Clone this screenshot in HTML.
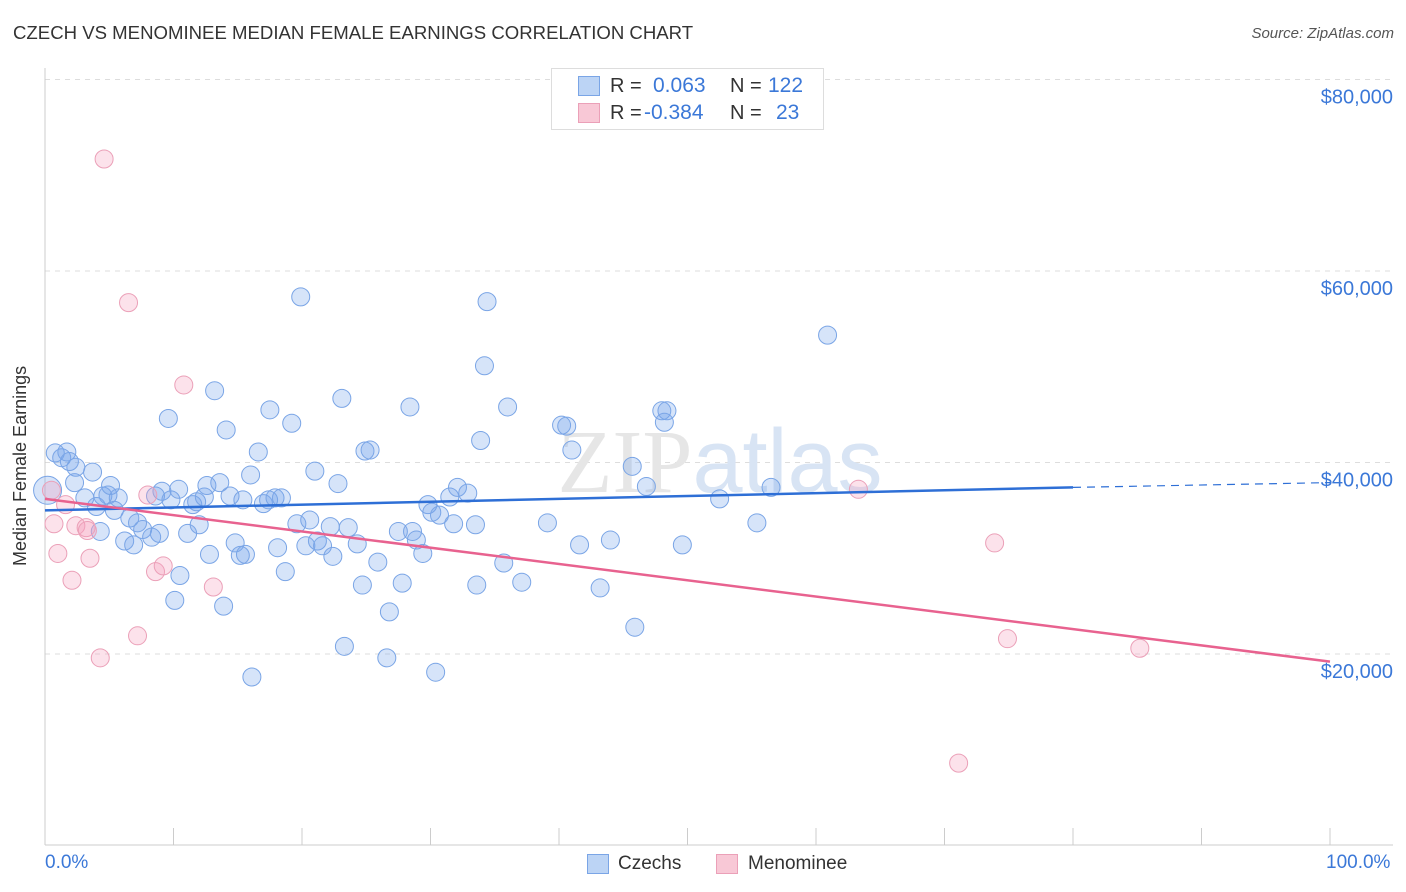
<!DOCTYPE html>
<html><head><meta charset="utf-8">
<style>
body{margin:0;background:#fff;font-family:"Liberation Sans",sans-serif;}
#wrap{position:relative;width:1406px;height:892px;overflow:hidden;}
.t{position:absolute;white-space:nowrap;}
</style></head>
<body>
<div id="wrap">
<div class="t" style="left:13px;top:22px;font-size:18.6px;color:#333;">CZECH VS MENOMINEE MEDIAN FEMALE EARNINGS CORRELATION CHART</div>
<div class="t" style="right:12px;top:25px;font-size:15px;color:#555;font-style:italic;">Source: ZipAtlas.com</div>
<svg id="svg" width="1406" height="892" style="position:absolute;left:0;top:0"></svg>
<div class="t" style="left:551px;top:68px;width:271px;height:60px;border:1px solid #ddd;background:#fff;">
 <div style="position:absolute;left:26px;top:7px;width:20px;height:18px;background:#bcd4f5;border:1px solid #7aa5e6;"></div>
 <div style="position:absolute;left:58px;top:6px;font-size:20px;color:#333;">R =</div>
 <div style="position:absolute;left:101px;top:5px;font-size:21px;color:#3b78d8;">0.063</div>
 <div style="position:absolute;left:178px;top:6px;font-size:20px;color:#333;">N =</div>
 <div style="position:absolute;left:216px;top:5px;font-size:21px;color:#3b78d8;">122</div>
 <div style="position:absolute;left:26px;top:34px;width:20px;height:18px;background:#f8c8d6;border:1px solid #eba0b8;"></div>
 <div style="position:absolute;left:58px;top:33px;font-size:20px;color:#333;">R =</div>
 <div style="position:absolute;left:92px;top:32px;font-size:21px;color:#3b78d8;">-0.384</div>
 <div style="position:absolute;left:178px;top:33px;font-size:20px;color:#333;">N =</div>
 <div style="position:absolute;left:224px;top:32px;font-size:21px;color:#3b78d8;">23</div>
</div>
<div class="t" style="left:45px;top:852px;font-size:19px;color:#3b78d8;">0.0%</div>
<div class="t" style="left:1326px;top:852px;font-size:19px;color:#3b78d8;">100.0%</div>
<div class="t" style="left:587px;top:854px;width:20px;height:18px;background:#bcd4f5;border:1px solid #7aa5e6;"></div>
<div class="t" style="left:618px;top:853px;font-size:19px;color:#333;">Czechs</div>
<div class="t" style="left:716px;top:854px;width:20px;height:18px;background:#f8c8d6;border:1px solid #eba0b8;"></div>
<div class="t" style="left:748px;top:853px;font-size:19px;color:#333;">Menominee</div>
<div class="t" style="left:10px;font-size:18px;color:#333;transform:rotate(-90deg);transform-origin:left top;top:566px;">Median Female Earnings</div>
</div>
<script>
const yTicks=[20000,40000,60000,80000];
const yTickLabels=["$20,000","$40,000","$60,000","$80,000"];
const xTicks=[0,10,20,30,40,50,60,70,80,90,100];
const czX=[0.8,1.3,1.7,1.9,2.4,3.7,2.3,3.1,4.0,4.3,4.5,4.9,5.1,5.7,5.4,6.2,6.6,6.9,7.2,7.6,8.3,8.6,8.9,9.1,9.6,9.8,10.4,10.5,10.1,11.1,11.5,11.8,12.0,12.4,12.6,12.8,13.2,13.6,14.1,13.9,14.4,14.8,15.2,15.4,15.6,16.0,16.1,16.6,17.0,17.4,17.5,17.9,18.1,18.4,18.7,19.2,19.6,19.9,20.3,20.6,21.0,21.2,21.6,22.2,22.4,22.8,23.1,23.3,23.6,24.3,24.7,24.9,25.3,25.9,26.6,26.8,27.5,27.8,28.4,28.6,28.9,29.4,29.8,30.1,30.4,30.7,31.5,31.8,32.1,32.9,33.5,33.6,33.9,34.2,34.4,35.7,36.0,37.1,39.1,40.2,40.6,41.0,41.6,43.2,44.0,45.7,45.9,46.8,48.0,48.4,48.2,49.6,52.5,55.4,56.5,60.9,0.2];
const czY=[41.0,40.5,41.1,40.1,39.5,39.0,37.9,36.3,35.4,32.8,36.5,36.6,37.6,36.3,35.0,31.8,34.2,31.4,33.7,33.0,32.2,36.5,32.6,37.0,44.6,36.1,37.2,28.2,25.6,32.6,35.6,35.9,33.5,36.4,37.6,30.4,47.5,37.9,43.4,25.0,36.5,31.6,30.3,36.1,30.4,38.7,17.6,41.1,35.7,36.1,45.5,36.3,31.1,36.3,28.6,44.1,33.6,57.3,31.3,34.0,39.1,31.8,31.3,33.3,30.2,37.8,46.7,20.8,33.2,31.5,27.2,41.2,41.3,29.6,19.6,24.4,32.8,27.4,45.8,32.8,31.9,30.5,35.6,34.8,18.1,34.5,36.4,33.6,37.4,36.8,33.5,27.2,42.3,50.1,56.8,29.5,45.8,27.5,33.7,43.9,43.8,41.3,31.4,26.9,31.9,39.6,22.8,37.5,45.4,45.4,44.2,31.4,36.2,33.7,37.4,53.3,37.1];
const meX=[4.6,6.5,10.8,0.5,0.7,1.0,2.1,2.4,3.2,3.5,4.3,7.2,8.0,8.6,9.2,13.1,63.3,73.9,74.9,85.2,71.1,1.6,3.3];
const meY=[71.7,56.7,48.1,37.1,33.6,30.5,27.7,33.4,33.2,30.0,19.6,21.9,36.6,28.6,29.2,27.0,37.2,31.6,21.6,20.6,8.6,35.6,32.9];
const czLine=[35.0,37.4,37.9]; // at 0, 80, 100 %
const meLine=[36.2,19.2]; // at 0, 100 %
const NS="http://www.w3.org/2000/svg";
const svg=document.getElementById('svg');
const X=p=>45+p*12.85;
const Y=v=>845.5-v/20000*191.5;
function mk(t,a){const e=document.createElementNS(NS,t);for(const k in a)e.setAttribute(k,a[k]);svg.appendChild(e);return e;}
yTicks.forEach((v,i)=>{
 const g=mk('line',{x1:45,x2:1393,y1:Y(v),y2:Y(v),stroke:'#ddd','stroke-dasharray':'5,5'});
 
 
 const t=mk('text',{x:1393,y:Y(v)+24,'text-anchor':'end','font-size':20,fill:'#3b78d8','font-family':'Liberation Sans'});
 t.textContent=yTickLabels[i];
 
 
});
const ax=mk('line',{x1:45,x2:45,y1:68,y2:845,stroke:'#ccc'});


const bx=mk('line',{x1:45,x2:1393,y1:845,y2:845,stroke:'#ccc'});


xTicks.forEach(p=>{
 const l=mk('line',{x1:X(p),x2:X(p),y1:828,y2:845,stroke:'#ccc'});
 
 
});
const wm=mk('text',{x:720,y:492,'text-anchor':'middle','font-size':90,fill:'#e6e6e6','font-family':'Liberation Serif'});
wm.innerHTML='ZIP<tspan fill="#d8e4f4" font-family="Liberation Sans">atlas</tspan>';


czX.forEach((x,i)=>{
 const c=mk('circle',{cx:X(x),cy:Y(czY[i]*1000),r:i==czX.length-1?14:9,fill:'rgba(120,165,235,0.3)',stroke:'#7aa5e6','stroke-width':1});
 
 
});
meX.forEach((x,i)=>{
 const c=mk('circle',{cx:X(x),cy:Y(meY[i]*1000),r:9,fill:'rgba(245,160,190,0.3)',stroke:'#eba0b8','stroke-width':1});
 
 
});
const l1=mk('line',{x1:X(0),y1:Y(czLine[0]*1000),x2:X(80),y2:Y(czLine[1]*1000),stroke:'#2e6fd6','stroke-width':2.5});


const l2=mk('line',{x1:X(80),y1:Y(czLine[1]*1000),x2:X(100),y2:Y(czLine[2]*1000),stroke:'#2e6fd6','stroke-width':1.2,'stroke-dasharray':'8,6'});


const l3=mk('line',{x1:X(0),y1:Y(meLine[0]*1000),x2:X(100),y2:Y(meLine[1]*1000),stroke:'#e8628f','stroke-width':2.5});


</script>
</body></html>
